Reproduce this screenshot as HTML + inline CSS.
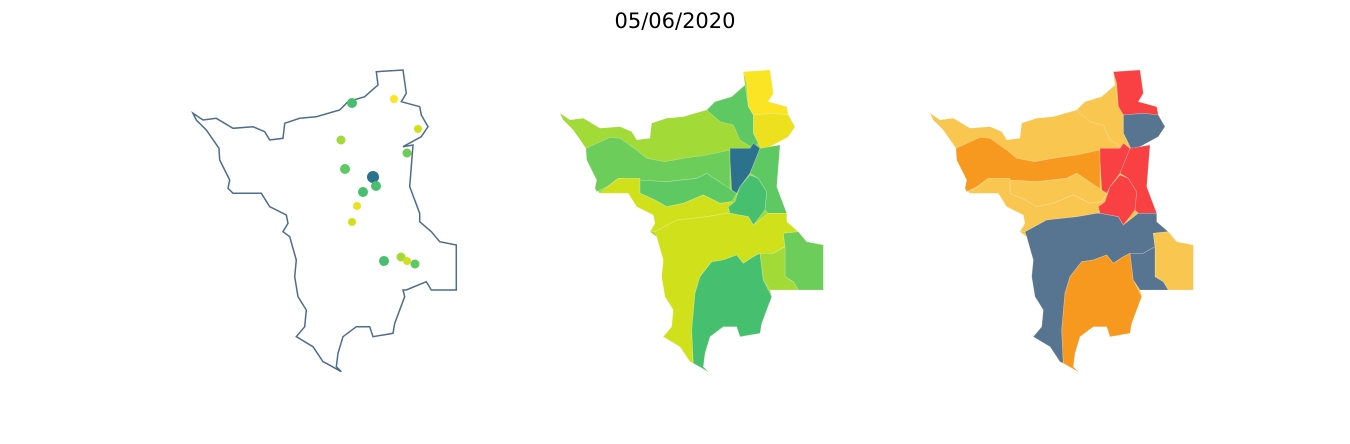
<!DOCTYPE html>
<html><head><meta charset="utf-8"><style>
html,body{margin:0;padding:0;background:#fff;width:1350px;height:444px;overflow:hidden}
svg{display:block}
</style></head><body>
<svg id="chart" width="1350" height="444" xmlns="http://www.w3.org/2000/svg">
<text x="675" y="28" text-anchor="middle" font-family="DejaVu Sans, sans-serif" font-size="21" fill="#000">05/06/2020</text>
</svg>
<script>
// Region names and category values (index into palettes)
const regionNames = ["base","north-1","north-2","northwest","middle-band","lower-middle","yellow-strip","central-dark","central-teal","east-strip","south-central","south","east","small-east"];
const valueCategories = [3,0,1,5,4,5,2,7,6,5,2,6,4,3];
const riskCategories = [0,3,2,0,1,0,0,3,3,3,2,1,0,2];
const viridisPalette = ["#fbe423","#ede01f","#d0e11c","#a2da37","#6ccd5a","#5ec962","#46c06f","#2c728e"];
const riskPalette = ["#f9c650","#f7981f","#577590","#f94144"];
const stationX = [352,394,418,341,407,345,373,376,363,357,352,384,401,407,415];
const stationY = [103,99,129,140,153,169,177,186,192,206,222,261,257,261,264];
const stationVal = [6,0,2,3,4,5,7,6,6,1,2,6,3,2,5];
const stationR = [5,4,4,4.5,4.5,5,6,5,5,4,4,5,4.5,4,4.5];

const outline=[[60,160],[90,180],[130,175],[180,205],[240,200],[275,215],[290,240],[330,235],[335,190],[380,175],[430,170],[500,150],[525,125],[575,110],[615,75],[610,35],[690,30],[700,100],[685,125],[740,140],[745,165],[765,200],[745,230],[690,260],[720,255],[710,380],[740,460],[740,485],[775,515],[800,545],[850,555],[850,690],[775,690],[760,665],[700,690],[690,690],[695,710],[665,790],[660,820],[600,830],[590,800],[550,800],[510,830],[495,880],[490,920],[505,935],[460,910],[450,905],[420,860],[370,830],[395,800],[400,750],[375,710],[365,650],[370,600],[350,530],[330,515],[345,490],[340,465],[290,440],[265,400],[180,400],[165,385],[170,360],[140,300],[138,265],[100,210],[70,180]];
const shapes=[outline,
[[610,35],[690,30],[700,100],[685,125],[740,140],[745,165],[700,160],[640,165],[625,140],[620,70]],
[[640,165],[700,160],[745,165],[765,200],[745,230],[690,260],[665,270],[655,250],[640,220]],
[[500,150],[525,125],[575,110],[615,75],[625,140],[640,165],[640,220],[655,250],[640,265],[600,240],[580,195],[540,185]],
[[138,265],[210,232],[240,235],[290,270],[320,295],[375,305],[430,295],[500,285],[570,270],[570,395],[590,400],[580,410],[545,370],[500,340],[470,355],[380,365],[295,360],[235,355],[200,380],[170,395],[165,385],[170,360],[140,300]],
[[295,360],[380,365],[470,355],[500,340],[545,370],[590,400],[575,425],[540,430],[490,405],[430,430],[380,440],[345,420],[300,400]],
[[180,400],[235,355],[300,355],[300,400],[345,420],[380,440],[430,430],[490,405],[540,430],[575,425],[580,440],[560,460],[500,470],[410,480],[345,515],[330,515],[345,490],[340,465],[290,440],[265,400]],
[[570,265],[630,265],[640,250],[660,265],[650,290],[630,340],[600,380],[590,400],[575,390],[570,300]],
[[600,380],[630,345],[655,355],[680,395],[675,450],[640,495],[625,470],[570,460],[565,440],[585,425]],
[[660,265],[690,260],[720,255],[710,380],[740,460],[685,460],[675,450],[680,395],[655,355],[630,340],[650,290]],
[[345,515],[410,480],[500,470],[560,460],[570,460],[625,470],[640,495],[685,460],[740,460],[740,485],[775,515],[730,520],[735,560],[700,580],[660,580],[640,590],[610,610],[590,585],[550,600],[515,605],[480,650],[465,700],[455,810],[460,910],[450,905],[420,860],[370,830],[395,800],[400,750],[375,710],[365,650],[370,600],[350,530]],
[[515,605],[550,600],[590,585],[610,610],[640,590],[660,580],[665,620],[670,660],[695,710],[665,790],[660,820],[600,830],[590,800],[550,800],[510,830],[495,880],[490,920],[505,935],[460,910],[455,810],[465,700],[480,650]],
[[730,520],[775,515],[800,545],[850,555],[850,690],[775,690],[760,665],[735,650],[735,560]],
[[660,580],[700,580],[735,560],[735,650],[760,665],[775,690],[700,690],[690,690],[670,660],[665,620]]];

const NS="http://www.w3.org/2000/svg";
const svg=document.getElementById('chart');
function pts(poly,ox,oy){return poly.map(p=>(ox+p[0]/3).toFixed(1)+','+(oy+p[1]/3).toFixed(1)).join(' ');}
// panel 1 outline
const o=document.createElementNS(NS,'polygon');
o.setAttribute('points',pts(outline,173,60));
o.setAttribute('fill','#fff');o.setAttribute('stroke','#4f6d8a');o.setAttribute('stroke-width','1.5');


svg.appendChild(o);
stationX.forEach((x,i)=>{
  const c=document.createElementNS(NS,'circle');
  c.setAttribute('cx',x);c.setAttribute('cy',stationY[i]);c.setAttribute('r',stationR[i]);
  c.setAttribute('fill',viridisPalette[stationVal[i]]);
  
  
  svg.appendChild(c);
});
function panel(ox,cats,pal){
  shapes.forEach((s,i)=>{
    const p=document.createElementNS(NS,'polygon');
    p.setAttribute('points',pts(s,ox,60));
    p.setAttribute('fill',pal[cats[i]]);
    p.setAttribute('stroke',i===0?'none':'rgba(255,255,255,0.35)');
    p.setAttribute('stroke-width','0.6');
    
    
    svg.appendChild(p);
  });
}
panel(540,valueCategories,viridisPalette);
panel(910,riskCategories,riskPalette);
</script>
</body></html>
